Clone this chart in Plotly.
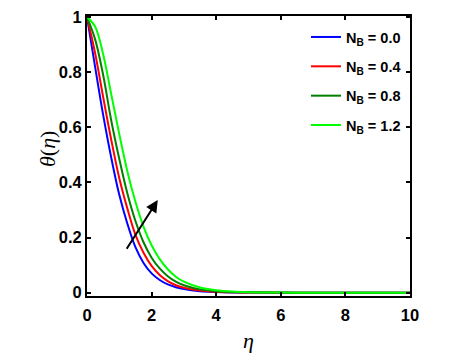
import plotly.graph_objects as go

# eta grid and temperature profiles
eta = [0, 0.25, 0.5, 0.75, 1.0, 1.25, 1.5, 1.75, 2.0, 2.25, 2.5, 2.75, 3.0, 3.5, 4.0, 4.5, 5.0, 6.0, 7.0, 8.0, 10.0]

theta_nb00 = [1.0, 0.82, 0.645, 0.49, 0.355, 0.25, 0.165, 0.108, 0.070, 0.046, 0.030, 0.020, 0.013,
              0.0055, 0.0025, 0.001, 0.0005, 0.0001, 0.0, 0.0, 0.0]
theta_nb04 = [1.0, 0.87, 0.71, 0.555, 0.415, 0.305, 0.21, 0.145, 0.097, 0.064, 0.042, 0.027, 0.018,
              0.008, 0.0035, 0.0015, 0.0007, 0.0002, 0.0, 0.0, 0.0]
theta_nb08 = [1.0, 0.92, 0.79, 0.625, 0.485, 0.36, 0.26, 0.183, 0.127, 0.088, 0.060, 0.040, 0.027,
              0.012, 0.0055, 0.0025, 0.0012, 0.0003, 0.0001, 0.0, 0.0]
theta_nb12 = [1.0, 0.966, 0.865, 0.72, 0.575, 0.44, 0.33, 0.24, 0.172, 0.122, 0.085, 0.058, 0.040,
              0.019, 0.009, 0.0042, 0.002, 0.0005, 0.0001, 0.0, 0.0]

labels = ["N<sub>B</sub> = 0.0", "N<sub>B</sub> = 0.4", "N<sub>B</sub> = 0.8", "N<sub>B</sub> = 1.2"]
colors = ["#0000ff", "#ff0000", "#008000", "#00ff00"]

y_ticks = [0, 0.2, 0.4, 0.6, 0.8, 1]
y_ticktext = ["0", "0.2", "0.4", "0.6", "0.8", "1"]
x_ticks = [0, 2, 4, 6, 8, 10]

fig = go.Figure()
for i, (ys, name, c) in enumerate(zip([theta_nb00, theta_nb04, theta_nb08, theta_nb12], labels, colors)):
    fig.add_trace(go.Scatter(x=eta, y=ys, mode="lines", name=name, legendgroup=f"g{i}",
                             line=dict(color=c, width=2, shape="spline", smoothing=1.0)))

# arrow showing increasing N_B
fig.add_annotation(x=2.19, y=0.336, ax=1.20, ay=0.154, xref="x", yref="y", axref="x", ayref="y",
                   showarrow=True, arrowhead=2, arrowsize=1.2, arrowwidth=2, arrowcolor="black", text="")

# y axis title placed by hand
fig.add_annotation(text="<i>θ</i>(<i>η</i>)", textangle=-90, xref="paper", yref="paper",
                   x=0, y=0.525, xanchor="center", yanchor="middle", xshift=-40, showarrow=False,
                   font=dict(family="Liberation Serif", size=22, color="black"))

axis_style = dict(showline=True, linecolor="black", linewidth=2, mirror="ticks",
                  ticks="inside", ticklen=4, tickwidth=1.5, tickcolor="black",
                  showgrid=False, zeroline=False, automargin=False, ticklabeloverflow="allow",
                  tickfont=dict(family="Liberation Sans", size=16.5, color="black", weight="bold"))

fig.update_xaxes(range=[0, 10], tickvals=x_ticks, ticklabelstandoff=3,
                 title=dict(text="<i>η</i>", font=dict(family="Liberation Serif", size=22, color="black"), standoff=10),
                 **axis_style)
fig.update_yaxes(range=[-0.012, 1.004], tickvals=y_ticks, ticktext=y_ticktext, **axis_style)

# page body adds 8px, so the figure is a little smaller than the window
fig.update_layout(width=455, height=353, margin=dict(l=79, r=53, t=8, b=65),
                  plot_bgcolor="white", paper_bgcolor="white",
                  legend=dict(x=0.678, y=0.982, xanchor="left", yanchor="top", bgcolor="rgba(0,0,0,0)",
                              font=dict(family="Liberation Sans", size=14.5, color="black", weight="bold"),
                              tracegroupgap=7.5, itemwidth=30, traceorder="grouped"))

fig.write_html("out.html")
